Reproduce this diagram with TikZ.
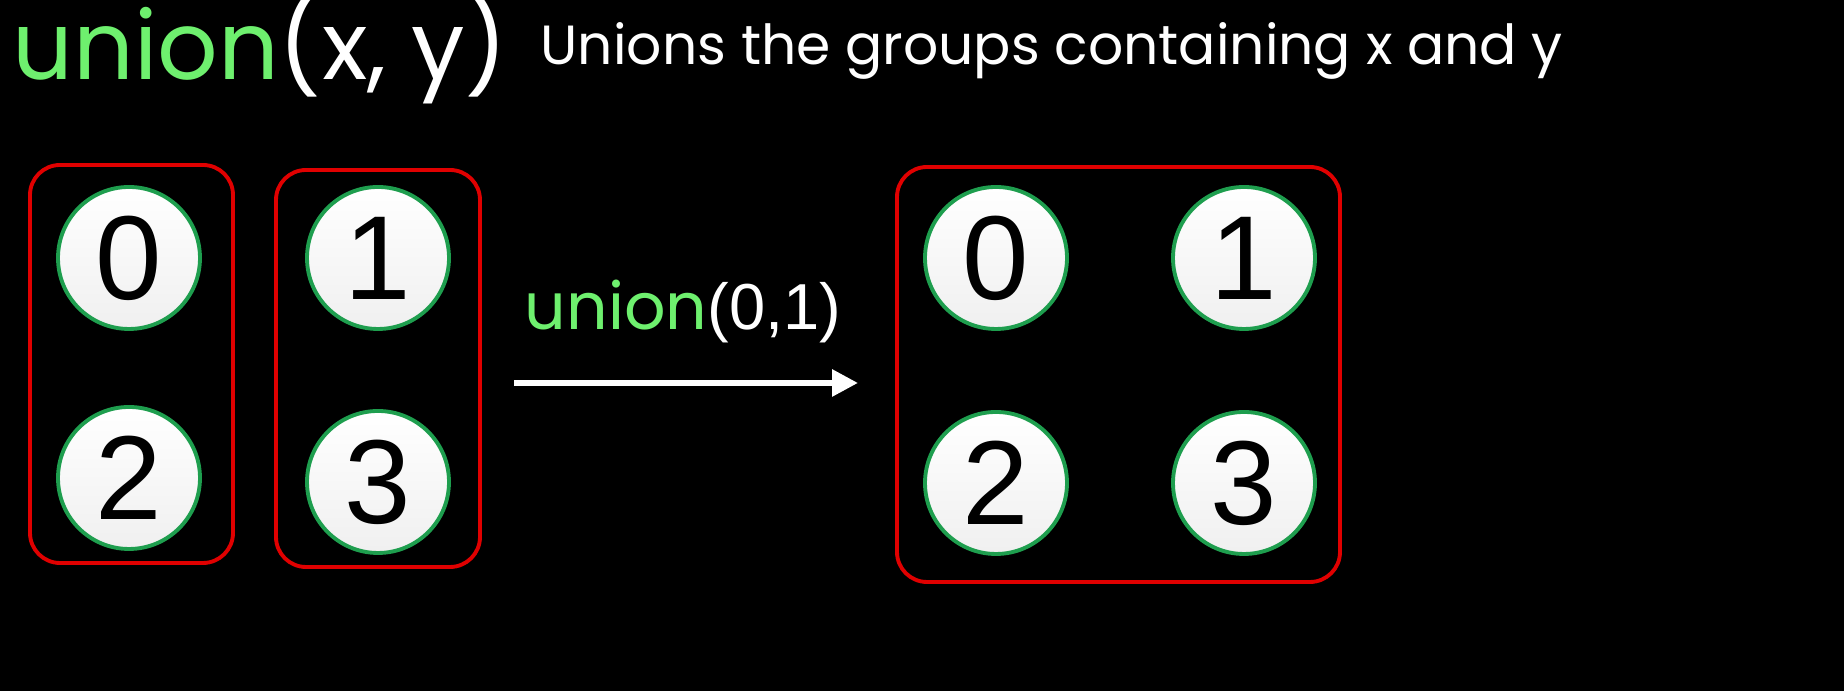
\documentclass[tikz,border=0pt]{standalone}
\usepackage{fontspec}
\setmainfont{Liberation Sans}
\newfontfamily\headfont{Poppins}
\usepackage{xcolor}
\usetikzlibrary{arrows.meta, positioning}
\definecolor{lightgreen}{HTML}{6EF06E}
\definecolor{ringgreen}{HTML}{1E9E4E}
\definecolor{groupred}{HTML}{E00000}

\begin{document}
\begin{tikzpicture}[
    % Group boxes
    groupbox/.style={rectangle, rounded corners=0.3cm, draw=groupred, line width=1.1pt, inner sep=0pt},
    % Elements
    element/.style={circle, draw=ringgreen, line width=1.1pt, top color=white, bottom color=white!88!gray, minimum size=1.42cm, inner sep=0pt, font=\fontsize{34}{36}\selectfont},
    % Texts
    title/.style={anchor=base west, inner sep=0pt, text=white, font=\headfont\fontsize{27}{30}\selectfont},
    subtitle/.style={anchor=base west, inner sep=0pt, text=white, font=\headfont\fontsize{15.7}{18}\selectfont},
    oplabel/.style={inner sep=0pt, text=white, font=\fontsize{18.5}{21}\selectfont}
]
    % Background
    \fill[black] (0,0) rectangle (18.44,6.91);
    \useasboundingbox (0,0) rectangle (18.44,6.91);

    % Title
    \node[title] (title) at (0.12, 6.11) {\textcolor{lightgreen}{union}(x, y)};
    \node[subtitle] (subtitle) at (5.40, 6.26) {Unions the groups containing x and y};

    % Groups before
    \node[groupbox, minimum width=2.03cm, minimum height=3.98cm] (groupA) at (1.315, 3.27) {};
    \node[groupbox, minimum width=2.04cm, minimum height=3.97cm] (groupB) at (3.78, 3.225) {};
    \node[element] (a0) at (1.29, 4.33) {0};
    \node[element] (a2) at (1.29, 2.13) {2};
    \node[element] (b1) at (3.78, 4.33) {1};
    \node[element] (b3) at (3.78, 2.09) {3};

    % Operation
    \coordinate (opstart) at (5.14, 3.08);
    \coordinate (opend) at (8.58, 3.08);
    \draw[white, line width=1.7pt, -{Triangle[length=0.26cm, width=0.26cm]}] (opstart) -- (opend);
    \node[oplabel] (op) at (6.83, 3.79) {{\headfont\textcolor{lightgreen}{union}}(0,1)};

    % Group after
    \node[groupbox, minimum width=4.43cm, minimum height=4.15cm] (groupC) at (11.185, 3.165) {};
    \node[element] (c0) at (9.96, 4.33) {0};
    \node[element] (c1) at (12.44, 4.33) {1};
    \node[element] (c2) at (9.96, 2.08) {2};
    \node[element] (c3) at (12.44, 2.08) {3};
\end{tikzpicture}
\end{document}
